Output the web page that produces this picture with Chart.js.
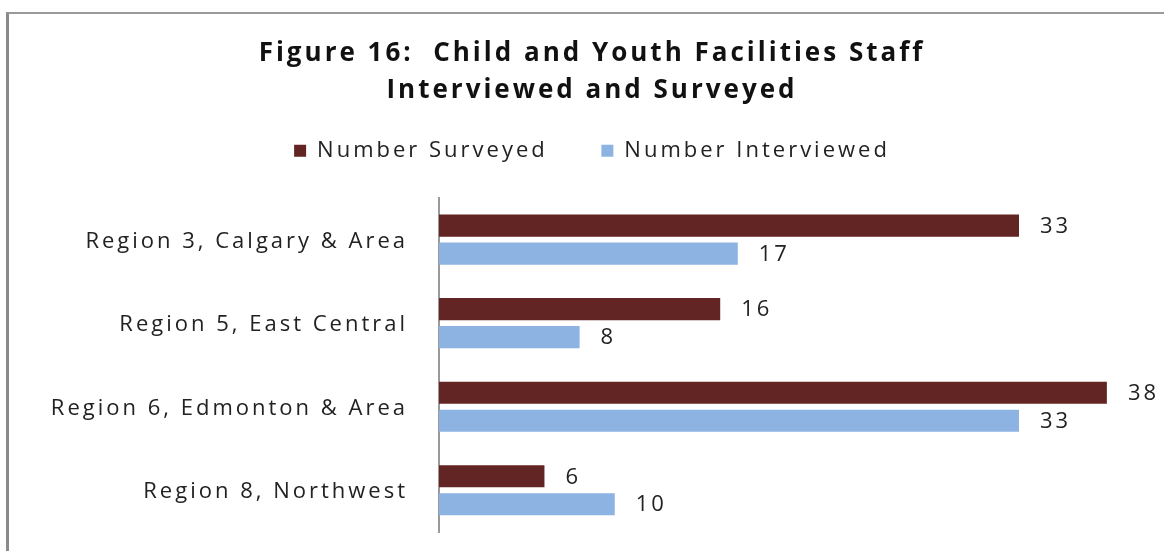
<!DOCTYPE html>
<html>
<head>
<meta charset="utf-8">
<script src="https://cdn.jsdelivr.net/npm/chart.js@4/dist/chart.umd.min.js"></script>
<style>
  html, body { margin: 0; padding: 0; background: #fff; overflow: hidden; }
  #wrap { position: relative; width: 1164px; height: 551px; }
  #frame {
    position: absolute; left: 6px; top: 12px; width: 1200px; height: 600px;
    border-left: 3px solid #8a8a8a; border-top: 2px solid #9a9a9a;
  }
  canvas { position: absolute; left: 0; top: 0; }
</style>
</head>
<body>
<div id="wrap">
  <div id="frame"></div>
  <canvas id="chart" width="1164" height="551"></canvas>
</div>
<script>
const REGIONS = [
  "Region 3, Calgary & Area",
  "Region 5, East Central",
  "Region 6, Edmonton & Area",
  "Region 8, Northwest",
];
const SURVEYED = [33, 16, 38, 6];
const INTERVIEWED = [17, 8, 33, 10];

const FONT = "'Open Sans', Lato, sans-serif";
const SPACING = "3px";

// wide, loosely tracked lettering for every text on the canvas
const tracking = {
  id: "tracking",
  beforeLayout(chart) { chart.ctx.letterSpacing = SPACING; },
  beforeDraw(chart) { chart.ctx.letterSpacing = SPACING; },
};

// values printed just past the end of each bar
const barValues = {
  id: "barValues",
  afterDatasetsDraw(chart) {
    const ctx = chart.ctx;
    ctx.save();
    ctx.letterSpacing = SPACING;
    ctx.font = "22px " + FONT;
    ctx.fillStyle = "#222";
    ctx.textAlign = "left";
    ctx.textBaseline = "middle";
    chart.data.datasets.forEach((ds, i) => {
      chart.getDatasetMeta(i).data.forEach((bar, j) => {
        ctx.fillText(String(ds.data[j]), bar.x + 21, bar.y + 1);
      });
    });
    ctx.restore();
  },
};

new Chart(document.getElementById("chart"), {
  type: "bar",
  data: {
    labels: REGIONS,
    datasets: [
      {
        label: "Number Surveyed",
        data: SURVEYED,
        backgroundColor: "#632523",
        barPercentage: 0.79,
        categoryPercentage: 0.67,
      },
      {
        label: "Number Interviewed",
        data: INTERVIEWED,
        backgroundColor: "#8db3e2",
        barPercentage: 0.79,
        categoryPercentage: 0.67,
      },
    ],
  },
  options: {
    indexAxis: "y",
    responsive: false,
    animation: false,
    layout: { padding: { left: 20, right: 0, top: 0, bottom: 19 } },
    plugins: {
      title: {
        display: true,
        text: ["Figure 16:  Child and Youth Facilities Staff", "Interviewed and Surveyed"],
        color: "#111",
        font: { family: FONT, size: 26, weight: "bold", lineHeight: 1.42 },
        padding: { top: 35, bottom: 21 },
      },
      legend: {
        position: "top",
        labels: {
          color: "#222",
          font: { family: FONT, size: 22 },
          boxWidth: 12,
          boxHeight: 12,
          padding: 10,
          // wider gap between the two legend entries
          generateLabels: (chart) => {
            const items = Chart.defaults.plugins.legend.labels.generateLabels(chart);
            items.forEach((item, i) => {
              if (i < items.length - 1) item.text += "     ";
            });
            return items;
          },
        },
      },
      tooltip: { enabled: false },
    },
    scales: {
      x: {
        position: "top",
        min: 0,
        max: 41.25,
        grid: { display: false, drawTicks: false },
        border: { display: false },
        ticks: { display: false },
        afterFit: (axis) => { axis.height = 26; },
      },
      y: {
        grid: { display: false, drawTicks: false },
        border: { display: true, color: "#9a9a9a", width: 2 },
        ticks: {
          color: "#222",
          font: { family: FONT, size: 22 },
          padding: 31,
          labelOffset: 2,
        },
        afterFit: (axis) => {
          axis.width = 419;
          axis.paddingTop = 0;
          axis.paddingBottom = 0;
        },
      },
    },
  },
  plugins: [tracking, barValues],
});
</script>
</body>
</html>
